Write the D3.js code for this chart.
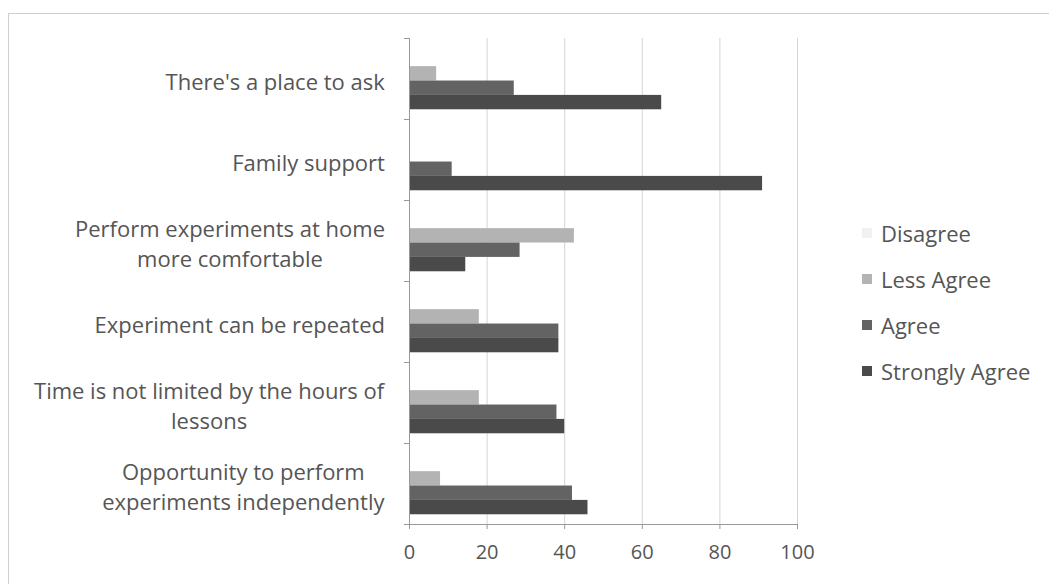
<!DOCTYPE html>
<html lang="en">
  <head>
    <meta charset="UTF-8" />
    <title>Students' responses</title>
    <style>
      body {
        margin: 0;
        background: #fff;
      }
      svg {
        display: block;
        font-family: "Open Sans", Lato, sans-serif;
      }
      .label {
        fill: #555;
        font-size: 22px;
      }
      .axis-x text {
        fill: #555;
        font-size: 20px;
      }
    </style>
  </head>
  <body>
    <svg width="1049" height="584"></svg>
    <script src="https://cdn.jsdelivr.net/npm/d3@7"></script>
    <script>
      // data
      const categories = [
        "There's a place to ask",
        "Family support",
        "Perform experiments at home\nmore comfortable",
        "Experiment can be repeated",
        "Time is not limited by the hours of\nlessons",
        "Opportunity to perform\nexperiments independently"
      ];
      const seriesNames = ["Disagree", "Less Agree", "Agree", "Strongly Agree"];
      const disagree = [0, 0, 0, 0, 0, 0];
      const lessAgree = [7, 0, 42.5, 18, 18, 8];
      const agree = [27, 11, 28.5, 38.5, 38, 42];
      const stronglyAgree = [65, 91, 14.5, 38.5, 40, 46];
      const xTicks = [0, 20, 40, 60, 80, 100];
      const colors = ["#f1f1f1", "#b3b3b3", "#636363", "#4a4a4a"];

      const series = [disagree, lessAgree, agree, stronglyAgree];
      const rows = categories.map((c, i) => ({
        cat: c,
        vals: seriesNames.map((s, j) => ({ key: s, v: series[j][i] }))
      }));

      const svg = d3.select("svg");
      const margin = { top: 38, left: 409, right: 252, bottom: 60 };
      const W = +svg.attr("width"), H = +svg.attr("height");

      // chart frame
      svg.append("rect")
        .attr("x", 8.5).attr("y", 13.5)
        .attr("width", 1100).attr("height", 700)
        .attr("fill", "none").attr("stroke", "#cfcfcf");

      const x = d3.scaleLinear().domain([0, 100]).range([margin.left, W - margin.right]);
      const y0 = d3.scaleBand().domain(categories).range([margin.top, H - margin.bottom]);
      const bw = y0.bandwidth();
      const y1 = d3.scaleBand().domain(seriesNames).range([bw * 0.17, bw * 0.88]);

      // grid lines
      svg.append("g").selectAll("line")
        .data(xTicks.slice(1))
        .join("line")
        .attr("x1", (d) => x(d) + 0.5).attr("x2", (d) => x(d) + 0.5)
        .attr("y1", y0.range()[0]).attr("y2", y0.range()[1])
        .attr("stroke", "#d4d4d4");

      // bars
      const groups = svg.append("g").selectAll("g")
        .data(rows)
        .join("g")
        .attr("transform", (d) => "translate(0," + y0(d.cat) + ")");
      groups.selectAll("rect")
        .data((d) => d.vals)
        .join("rect")
        .attr("x", x(0))
        .attr("y", (d) => y1(d.key))
        .attr("width", (d) => x(d.v) - x(0))
        .attr("height", y1.bandwidth())
        .attr("fill", (d, i) => colors[i]);

      // x axis
      const xa = svg.append("g")
        .attr("class", "axis-x")
        .attr("transform", "translate(0," + y0.range()[1] + ")")
        .call(d3.axisBottom(x).tickValues(xTicks).tickSize(5).tickPadding(16));
      xa.selectAll("path, line").attr("stroke", "#999");
      xa.selectAll("text").attr("font-family", "'Open Sans', Lato, sans-serif");

      // y axis: line plus ticks on category boundaries
      const ya = svg.append("g");
      ya.append("line")
        .attr("x1", x(0) + 0.5).attr("x2", x(0) + 0.5)
        .attr("y1", y0.range()[0]).attr("y2", y0.range()[1])
        .attr("stroke", "#999");
      ya.selectAll(".tk")
        .data(categories.map((c) => y0(c)).concat([y0.range()[1]]))
        .join("line")
        .attr("x1", x(0) - 5).attr("x2", x(0))
        .attr("y1", (d) => d + 0.5).attr("y2", (d) => d + 0.5)
        .attr("stroke", "#999");

      // category labels
      const lineH = 30;
      categories.forEach((c) => {
        const lines = c.split("\n");
        const cy = y0(c) + bw / 2 + 2;
        const t = svg.append("text")
          .attr("class", "label")
          .attr("text-anchor", "middle")
          .attr("dominant-baseline", "central");
        lines.forEach((ln, k) => {
          t.append("tspan")
            .attr("x", 0)
            .attr("y", cy + (k - (lines.length - 1) / 2) * lineH)
            .text(ln);
        });
        // right align block, lines centred inside it (Excel style)
        const w = t.node().getBBox().width;
        t.attr("transform", "translate(" + (385 - w / 2) + ",0)");
      });

      // legend
      const lg = svg.append("g").attr("transform", "translate(862,233)");
      const li = lg.selectAll("g")
        .data(seriesNames)
        .join("g")
        .attr("transform", (d, i) => "translate(0," + i * 46 + ")");
      li.append("rect")
        .attr("x", 0).attr("y", -5)
        .attr("width", 10).attr("height", 10)
        .attr("fill", (d, i) => colors[i]);
      li.append("text")
        .attr("class", "label")
        .attr("x", 19)
        .attr("dominant-baseline", "central")
        .text((d) => d);
    </script>
  </body>
</html>
